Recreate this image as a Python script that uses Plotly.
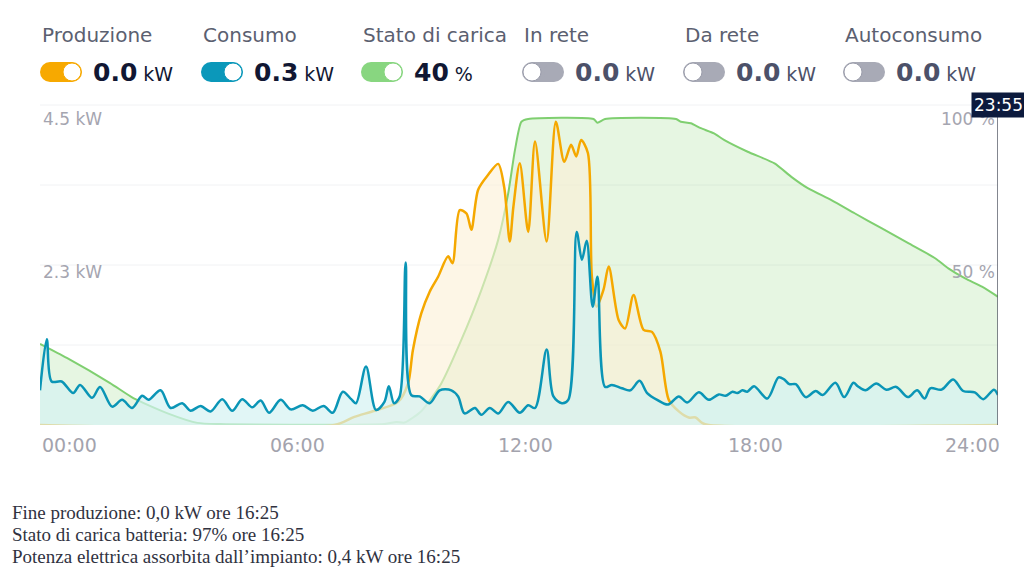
import plotly.graph_objects as go

# ---------------- data (hours, values) ----------------
cons_t = [0.00,0.17,0.29,0.54,0.83,1.00,1.30,1.50,1.80,2.05,
          2.30,2.55,2.71,3.01,3.26,3.55,3.76,4.01,4.26,4.55,
          4.80,5.05,5.30,5.51,5.72,6.01,6.26,6.56,6.81,7.08,
          7.31,7.56,7.77,7.89,8.14,8.39,8.60,8.71,8.84,8.98,
          9.13,9.27,9.48,9.73,9.98,10.27,10.44,10.60,10.86,11.02,
          11.23,11.44,11.69,11.98,12.19,12.36,12.65,12.82,13.03,13.19,
          13.40,13.53,13.65,13.80,13.92,14.11,14.28,14.53,14.74,14.97,
          15.16,15.41,15.68,15.95,16.16,16.45,16.70,16.95,17.12,17.29,
          17.41,17.54,17.66,17.83,18.16,18.44,18.58,18.71,18.87,19.12,
          19.37,19.54,19.86,20.08,20.31,20.42,20.61,20.88,21.13,21.38,
          21.67,21.90,22.09,22.23,22.51,22.80,23.05,23.34,23.55,23.82,
          23.92]
cons_kw = [0.51,1.26,0.64,0.64,0.47,0.59,0.40,0.56,0.27,0.37,
           0.25,0.43,0.37,0.51,0.25,0.32,0.21,0.28,0.20,0.38,
           0.21,0.38,0.26,0.36,0.18,0.37,0.23,0.29,0.21,0.28,
           0.18,0.49,0.38,0.32,0.86,0.22,0.34,0.57,0.32,0.42,
           2.39,0.44,0.42,0.32,0.51,0.51,0.42,0.17,0.25,0.15,
           0.25,0.17,0.34,0.18,0.29,0.25,1.11,0.42,0.32,0.37,
           2.84,2.43,2.71,1.74,2.18,0.56,0.59,0.54,0.51,0.65,
           0.47,0.37,0.30,0.42,0.33,0.48,0.37,0.45,0.43,0.49,
           0.47,0.51,0.49,0.57,0.39,0.70,0.67,0.60,0.60,0.41,
           0.50,0.44,0.62,0.41,0.62,0.57,0.51,0.61,0.52,0.56,
           0.41,0.51,0.39,0.54,0.52,0.67,0.50,0.48,0.38,0.52,
           0.44]

prod_t = [0.00,7.35,7.85,8.35,8.94,9.19,9.31,9.52,9.73,9.94,
          10.19,10.30,10.48,10.65,10.77,10.94,11.19,11.44,11.59,11.73,
          11.82,11.98,12.19,12.36,12.65,12.88,13.09,13.26,13.39,13.51,
          13.68,13.78,13.90,14.07,14.20,14.45,14.61,14.82,15.07,15.28,
          15.49,15.70,15.95,16.20,16.37,16.53,16.70,23.92]
prod_kw = [0.00,0.00,0.12,0.21,0.34,0.61,1.10,1.64,1.96,2.18,
           2.48,2.38,3.16,3.11,2.87,3.46,3.68,3.84,3.50,2.70,
           3.21,3.85,2.84,4.17,2.70,4.46,3.87,4.12,3.95,4.19,
           4.00,2.18,1.74,1.99,2.33,1.54,1.42,1.91,1.40,1.37,
           1.08,0.37,0.20,0.11,0.11,0.03,0.00,0.00]

soc_t = [0.00,0.67,1.75,2.33,3.17,3.93,4.50,8.60,8.90,9.10,
         9.52,10.02,10.52,11.02,11.44,11.69,11.86,12.02,12.19,13.82,
         13.92,14.11,15.88,16.00,16.25,16.50,16.83,17.09,17.67,18.34,
         18.76,19.17,19.76,20.34,21.01,21.68,22.35,22.68,23.10,23.52,
         23.92]
soc_pct = [26.5,21.9,13.7,8.8,3.9,0.7,0.3,0.3,1.0,0.8,
           4.5,13.6,27.8,44.1,60.5,75.7,89.9,99.1,100.0,100.0,
           98.8,100.0,100.0,99.1,98.6,97.0,95.3,93.1,89.3,85.5,
           81.1,77.4,73.5,69.2,64.3,59.4,54.5,51.2,47.9,45.2,
           41.9]

legend_names = ["Produzione", "Consumo", "Stato di carica", "In rete", "Da rete", "Autoconsumo"]
legend_values = ["0.0", "0.3", "40", "0.0", "0.0", "0.0"]
legend_units = ["kW", "kW", "%", "kW", "kW", "kW"]
legend_on = [True, True, True, False, False, False]

x_tick_labels = ["00:00", "06:00", "12:00", "18:00", "24:00"]
kw_tick_vals = [2.25, 4.5]
kw_tick_text = ["2.3 kW", "4.5 kW"]
soc_tick_vals = [50, 100]
soc_tick_text = ["50 %", "100 %"]
cursor_time = 23.92
cursor_label = "23:55"
notes = ["Fine produzione: 0,0 kW ore 16:25",
         "Stato di carica batteria: 97% ore 16:25",
         "Potenza elettrica assorbita dall\u2019impianto: 0,4 kW ore 16:25"]

# ---------------- styling ----------------
W, H = 1024, 575
L, R, T, B = 40, 26, 105, 150
PW, PH = W - L - R, H - T - B
ORANGE, BLUE, GREEN, GRAY = "#f5a800", "#0a95b6", "#7fcf70", "#a8aab6"
TOG_COL = ["#f7a900", "#0b98ba", "#88d680", GRAY, GRAY, GRAY]
FONT = "DejaVu Sans"

def px_x(px):
    return (px - L) / PW

def px_y(py):
    return (H - B - py) / PH

fig = go.Figure()

fig.add_trace(go.Scatter(x=soc_t, y=soc_pct, yaxis="y", mode="lines",
                         line=dict(color=GREEN, width=2, shape="spline", smoothing=0.6),
                         fill="tozeroy", fillcolor="rgba(140,215,125,0.22)",
                         hoverinfo="skip", showlegend=False))
fig.add_trace(go.Scatter(x=prod_t, y=prod_kw, yaxis="y2", mode="lines",
                         line=dict(color=ORANGE, width=2.5, shape="spline", smoothing=0.8),
                         fill="tozeroy", fillcolor="rgba(252,240,213,0.6)",
                         hoverinfo="skip", showlegend=False))
fig.add_trace(go.Scatter(x=cons_t, y=cons_kw, yaxis="y2", mode="lines",
                         line=dict(color=BLUE, width=2.5, shape="spline", smoothing=0.9),
                         fill="tozeroy", fillcolor="rgba(212,242,242,0.7)",
                         hoverinfo="skip", showlegend=False))

shapes = []
# gridlines
for gy in [0.25, 0.5, 0.75, 1.0]:
    shapes.append(dict(type="line", xref="paper", yref="paper", x0=0, x1=1, y0=gy, y1=gy,
                       line=dict(color="#f1f2f4", width=1), layer="below"))
# cursor line
shapes.append(dict(type="line", xref="x", yref="paper", x0=cursor_time, x1=cursor_time,
                   y0=0, y1=px_y(117), line=dict(color="#5a5e6a", width=1.5)))

annotations = []
item_x = [40, 201, 361, 522, 683, 843]
for i, name in enumerate(legend_names):
    x0 = item_x[i]
    annotations.append(dict(text=name, xref="paper", yref="paper", x=px_x(x0), y=px_y(35),
                            xanchor="left", yanchor="middle", showarrow=False,
                            font=dict(family=FONT, size=20, color="#5b6070")))
    # toggle pill
    xa, ya = px_x(x0), px_y(72)
    col = TOG_COL[i]
    common = dict(xref="paper", yref="paper", xsizemode="pixel", ysizemode="pixel",
                  xanchor=xa, yanchor=ya)
    shapes.append(dict(type="rect", x0=10, x1=32, y0=-10, y1=10, fillcolor=col,
                       line=dict(width=0), **common))
    shapes.append(dict(type="circle", x0=0, x1=20, y0=-10, y1=10, fillcolor=col,
                       line=dict(width=0), **common))
    shapes.append(dict(type="circle", x0=22, x1=42, y0=-10, y1=10, fillcolor=col,
                       line=dict(width=0), **common))
    if legend_on[i]:
        shapes.append(dict(type="circle", x0=23, x1=41, y0=-9, y1=9, fillcolor="white",
                           line=dict(color=col, width=1), **common))
    else:
        shapes.append(dict(type="circle", x0=1, x1=19, y0=-9, y1=9, fillcolor="white",
                           line=dict(color="#9b9dab", width=1), **common))
    vcol = "#111733" if legend_on[i] else "#4c5169"
    annotations.append(dict(text="<b>%s</b><span style='font-size:19px'> %s</span>" % (legend_values[i], legend_units[i]),
                            xref="paper", yref="paper", x=px_x(x0 + 51), y=px_y(72),
                            xanchor="left", yanchor="middle", showarrow=False,
                            font=dict(family=FONT, size=25, color=vcol)))

# x tick labels (spread edge-to-edge like the app)
tick_px = [40, 297, 525, 755, 1002]
tick_anchor = ["left", "center", "center", "center", "right"]
for lab, tp, anc in zip(x_tick_labels, tick_px, tick_anchor):
    annotations.append(dict(text=lab, xref="paper", yref="paper", x=px_x(tp), y=px_y(445),
                            xanchor=anc, yanchor="middle", showarrow=False,
                            font=dict(family=FONT, size=19, color="#a3a3ad")))

# cursor label
annotations.append(dict(text=cursor_label, xref="x", yref="paper", x=cursor_time, y=px_y(105),
                        xanchor="center", yanchor="middle", showarrow=False,
                        bgcolor="#0c1a3d", borderpad=2,
                        font=dict(family=FONT, size=17, color="white")))

# notes
for j, (txt, ny) in enumerate(zip(notes, [512, 534, 556])):
    annotations.append(dict(text=txt, xref="paper", yref="paper", x=px_x(10), y=px_y(ny),
                            xanchor="left", yanchor="middle", showarrow=False,
                            font=dict(family="Liberation Serif", size=19, color="#30323f")))

fig.update_layout(
    width=W, height=H, margin=dict(l=L, r=R, t=T, b=B),
    paper_bgcolor="white", plot_bgcolor="white", hovermode=False,
    xaxis=dict(range=[0, 23.92], showgrid=False, zeroline=False, showline=False,
               showticklabels=False, ticks=""),
    yaxis=dict(range=[0, 100 * 320 / 306], side="right", tickvals=soc_tick_vals, ticktext=soc_tick_text,
               ticklabelposition="inside", showgrid=False, zeroline=False, showline=False, ticks="",
               tickfont=dict(family=FONT, size=17, color="#a5a5b0")),
    yaxis2=dict(range=[0, 4.5 * 320 / 306], side="left", overlaying="y", tickvals=kw_tick_vals,
                ticktext=kw_tick_text, ticklabelposition="inside", showgrid=False, zeroline=False,
                showline=False, ticks="", tickfont=dict(family=FONT, size=17, color="#a5a5b0")),
    shapes=shapes, annotations=annotations,
)

fig.write_html("out.html")
